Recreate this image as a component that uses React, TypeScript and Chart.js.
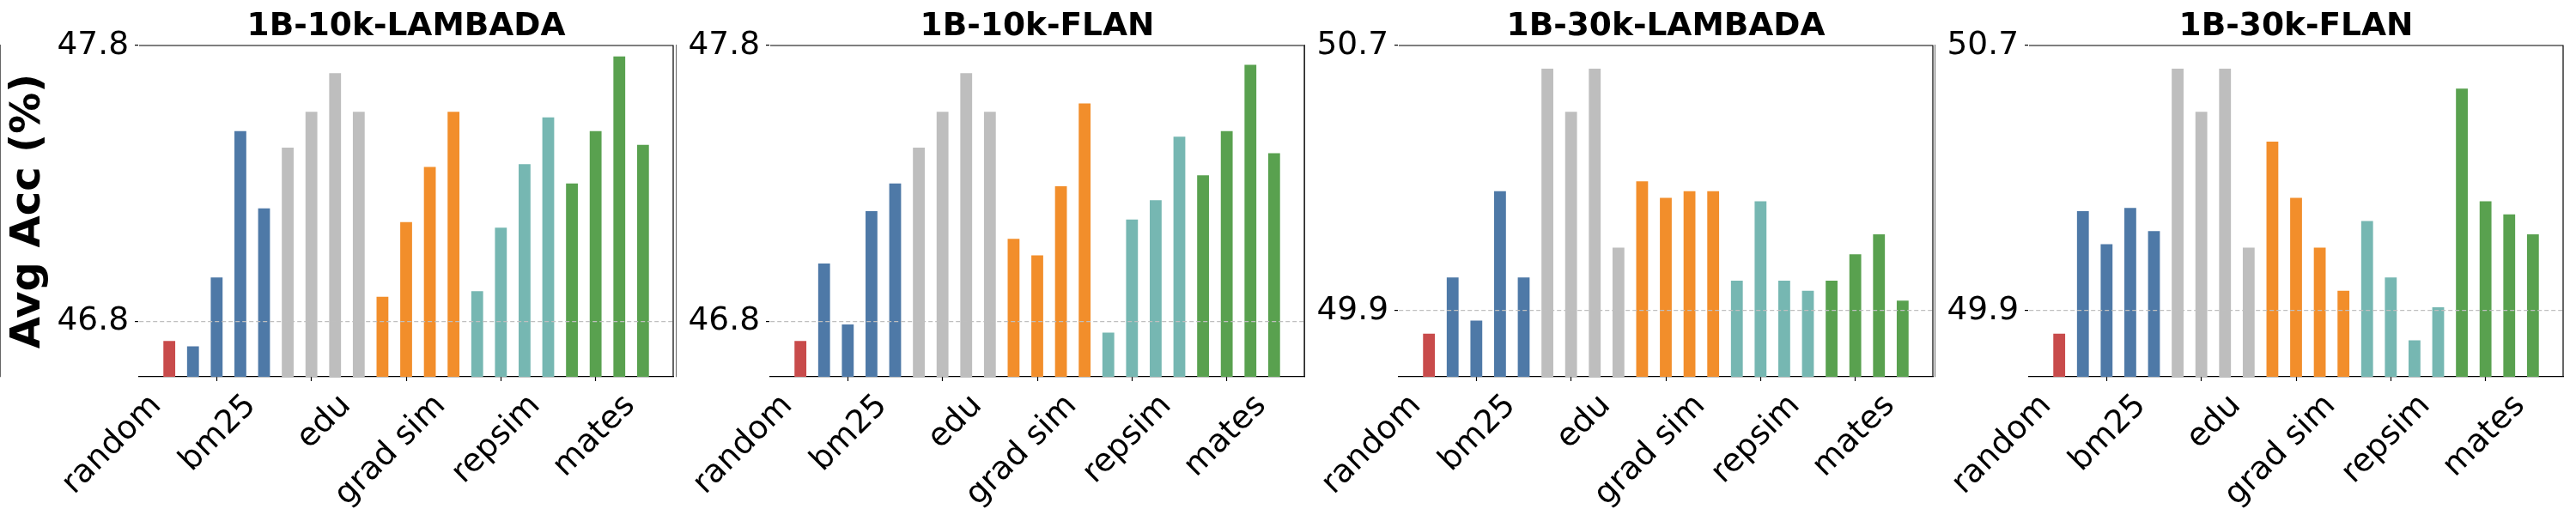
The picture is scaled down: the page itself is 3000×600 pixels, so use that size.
import React, { useEffect, useRef } from 'react';
import { Chart, registerables } from 'chart.js';

Chart.register(...registerables);

// ---- Data ----
const categories = ['random', 'bm25', 'edu', 'grad sim', 'repsim', 'mates'];
const groupSizes = [1, 4, 4, 4, 4, 4];
const panelTitles = ['1B-10k-LAMBADA', '1B-10k-FLAN', '1B-30k-LAMBADA', '1B-30k-FLAN'];

const lambada10k = [
  46.73,
  46.71, 46.96, 47.49, 47.21,
  47.43, 47.56, 47.70, 47.56,
  46.89, 47.16, 47.36, 47.56,
  46.91, 47.14, 47.37, 47.54,
  47.30, 47.49, 47.76, 47.44,
];
const flan10k = [
  46.73,
  47.01, 46.79, 47.20, 47.30,
  47.43, 47.56, 47.70, 47.56,
  47.10, 47.04, 47.29, 47.59,
  46.76, 47.17, 47.24, 47.47,
  47.33, 47.49, 47.73, 47.41,
];
const lambada30k = [
  49.83,
  50.00, 49.87, 50.26, 50.00,
  50.63, 50.50, 50.63, 50.09,
  50.29, 50.24, 50.26, 50.26,
  49.99, 50.23, 49.99, 49.96,
  49.99, 50.07, 50.13, 49.93,
];
const flan30k = [
  49.83,
  50.20, 50.10, 50.21, 50.14,
  50.63, 50.50, 50.63, 50.09,
  50.41, 50.24, 50.09, 49.96,
  50.17, 50.00, 49.81, 49.91,
  50.57, 50.23, 50.19, 50.13,
];

const yTicks10k = [46.8, 47.8];
const yTicks30k = [49.9, 50.7];
const yRange10k = [46.6, 47.8];
const yRange30k = [49.7, 50.7];

const yAxisTitle = 'Avg Acc (%)';

// ---- Styles ----
const groupColors = ['#C84B4B', '#4E79A7', '#BEBEBE', '#F28E2B', '#76B7B2', '#59A14F'];
const FONT = 'DejaVu Sans';
const TICK_SIZE = 37.5;
const TITLE_SIZE = 37.5;
const YTITLE_SIZE = 48;
const PLOT_BOTTOM = 439;
const CANVAS_H = 600;
const PLOT_W = 622;

const framePlugin = {
  id: 'frame',
  afterDraw(chart: any) {
    const { ctx, chartArea } = chart;
    ctx.save();
    ctx.strokeStyle = '#000';
    ctx.lineWidth = 1.2;
    ctx.beginPath();
    ctx.moveTo(chartArea.left, chartArea.top);
    ctx.lineTo(chartArea.right, chartArea.top);
    ctx.lineTo(chartArea.right, chartArea.bottom);
    ctx.stroke();
    ctx.restore();
  },
};

type PanelProps = {
  title: string;
  values: number[];
  yTicks: number[];
  yRange: number[];
  plotLeft: number;
  yAxisWidth: number;
  rightPad: number;
  showYTitle: boolean;
};

function Panel({ title, values, yTicks, yRange, plotLeft, yAxisWidth, rightPad, showYTitle }: PanelProps) {
  const ref = useRef<HTMLCanvasElement>(null);
  const width = yAxisWidth + PLOT_W + rightPad;
  const canvasLeft = plotLeft - yAxisWidth;

  useEffect(() => {
    const colors: string[] = [];
    groupSizes.forEach((n, g) => {
      for (let k = 0; k < n; k++) colors.push(groupColors[g]);
    });
    const tickPos: number[] = [];
    let acc = -1;
    groupSizes.forEach((n) => {
      acc += n;
      tickPos.push(acc);
    });
    const nBars = values.length;
    const margin = (nBars - 1 + 0.5) * 0.05;
    const xMin = -0.25 - margin;
    const xMax = nBars - 1 + 0.25 + margin;

    const chart = new Chart(ref.current as HTMLCanvasElement, {
      type: 'bar',
      data: {
        datasets: [
          {
            data: values.map((v, i) => ({ x: i, y: v })),
            backgroundColor: colors,
            borderWidth: 0,
            barPercentage: 0.5,
            categoryPercentage: 1.0,
          } as any,
        ],
      },
      options: {
        responsive: false,
        animation: false,
        devicePixelRatio: 1,
        layout: { padding: { top: 9.5, left: 0, right: rightPad, bottom: 0 } },
        plugins: {
          legend: { display: false },
          tooltip: { enabled: false },
          title: {
            display: true,
            fullSize: false,
            text: title,
            color: '#000',
            font: { family: FONT, size: TITLE_SIZE, weight: 'bold', lineHeight: 1.16 },
            padding: { top: 0, bottom: 0 },
          },
        },
        scales: {
          x: {
            type: 'linear',
            min: xMin,
            max: xMax,
            offset: false,
            afterBuildTicks: (s: any) => {
              s.ticks = tickPos.map((v) => ({ value: v }));
            },
            afterFit: (s: any) => {
              s.height = CANVAS_H - PLOT_BOTTOM;
            },
            ticks: {
              callback: (_v: any, i: number) => categories[i],
              autoSkip: false,
              minRotation: 45,
              maxRotation: 45,
              color: '#000',
              padding: 7,
              labelOffset: -15,
              font: { family: FONT, size: TICK_SIZE },
            },
            grid: {
              drawOnChartArea: false,
              drawTicks: true,
              tickLength: 5,
              tickColor: '#000',
              tickWidth: 1.2,
            },
            border: { display: true, color: '#000', width: 1.2 },
          },
          y: {
            type: 'linear',
            min: yRange[0],
            max: yRange[1],
            afterBuildTicks: (s: any) => {
              s.ticks = yTicks.map((v) => ({ value: v }));
            },
            afterFit: (s: any) => {
              s.width = yAxisWidth;
            },
            ticks: {
              callback: (v: any) => Number(v).toFixed(1),
              color: '#000',
              padding: 7,
              font: { family: FONT, size: TICK_SIZE },
            },
            grid: {
              z: 1,
              color: (ctx: any) =>
                ctx.tick && Math.abs(ctx.tick.value - yTicks[0]) < 1e-6 ? '#BFBFBF' : 'rgba(0,0,0,0)',
              lineWidth: 1.2,
              drawTicks: true,
              tickLength: 5,
              tickColor: '#000',
              tickWidth: 1.2,
            },
            border: { display: true, color: '#000', width: 1.2, dash: [5, 3] },
            title: {
              display: showYTitle,
              text: yAxisTitle,
              color: '#000',
              font: { family: FONT, size: YTITLE_SIZE, weight: 'bold', lineHeight: 1.2 },
              padding: { top: 5, bottom: 0 },
            },
          },
        },
      } as any,
      plugins: [framePlugin],
    });
    return () => chart.destroy();
  }, []);

  return (
    <canvas
      ref={ref}
      width={width}
      height={CANVAS_H}
      style={{ position: 'absolute', left: canvasLeft, top: 0, width, height: CANVAS_H }}
    />
  );
}

const panelData = [lambada10k, flan10k, lambada30k, flan30k];
const panelLefts = [162, 897, 1629, 2363];

export default function App() {
  return (
    <div style={{ position: 'absolute', left: 0, top: 0, width: 3000, height: 600, background: '#fff' }}>
      {panelData.map((vals, i) => (
        <Panel
          key={i}
          title={panelTitles[i]}
          values={vals}
          yTicks={i < 2 ? yTicks10k : yTicks30k}
          yRange={i < 2 ? yRange10k : yRange30k}
          plotLeft={panelLefts[i]}
          yAxisWidth={i === 0 ? 162 : 110}
          rightPad={i === 3 ? 3000 - panelLefts[i] - PLOT_W : 12}
          showYTitle={i === 0}
        />
      ))}
    </div>
  );
}
